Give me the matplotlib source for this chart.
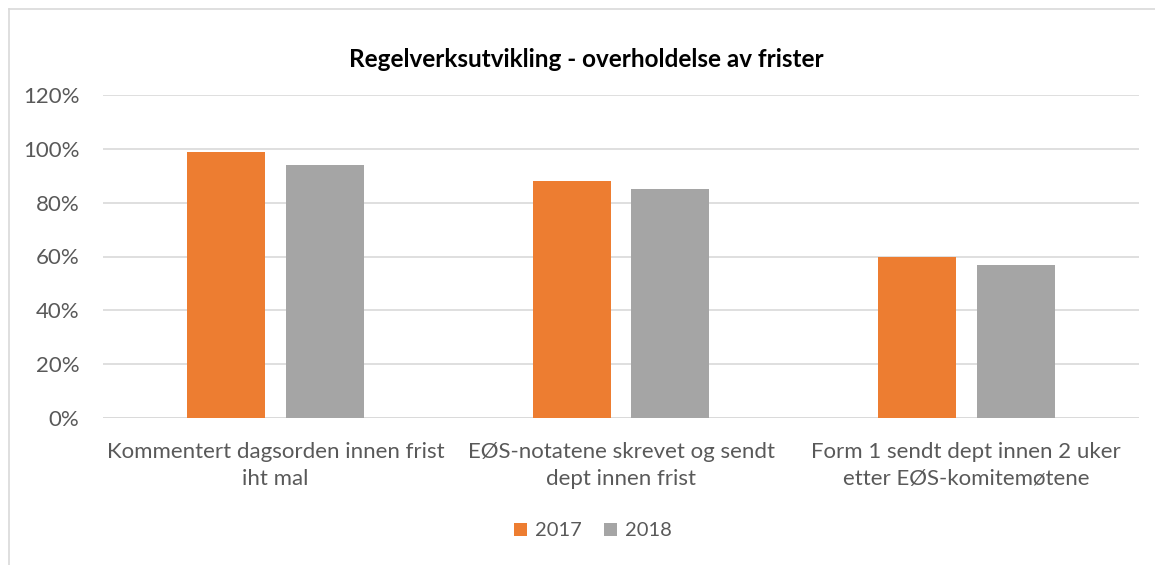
import numpy as np
import matplotlib.pyplot as plt
from matplotlib.patches import Patch
from matplotlib.lines import Line2D

categories = ["Kommentert dagsorden innen frist\niht mal",
              "EØS-notatene skrevet og sendt\ndept innen frist",
              "Form 1 sendt dept innen 2 uker\netter EØS-komitemøtene"]
series_names = ["2017", "2018"]
values_2017 = [99, 88, 60]
values_2018 = [94, 85, 57]
yticks = [0, 20, 40, 60, 80, 100, 120]

orange = "#ED7D31"
gray = "#A5A5A5"
txt = "#595959"

plt.rcParams['font.family'] = ['Lato', 'DejaVu Sans']

fig = plt.figure(figsize=(11.55, 5.65), dpi=100)
W, H = 1155, 565
ax = fig.add_axes([103 / W, 1 - 418 / H, (1139 - 103) / W, (418 - 95) / H])

x = np.arange(len(categories))
bw = 0.226
off = 0.1425
ax.bar(x - off, values_2017, bw, color=orange, zorder=3)
ax.bar(x + off, values_2018, bw, color=gray, zorder=3)

ax.set_xlim(-0.5, 2.5)
ax.set_ylim(0, 120)
ax.set_yticks(yticks)
ax.set_yticklabels([f"{v}%" for v in yticks])
ax.set_xticks(x)
ax.set_xticklabels(categories, linespacing=1.45)
ax.tick_params(axis='both', length=0, labelsize=16, colors=txt)
ax.tick_params(axis='x', pad=17)
ax.tick_params(axis='y', pad=17)
ax.yaxis.grid(True, color="#D9D9D9", linewidth=1.2, zorder=0)
for s in ax.spines.values():
    s.set_visible(False)
ax.axhline(0, color="#D9D9D9", linewidth=1.2, zorder=2)

fig.text(586 / W, 1 - 60 / H, "Regelverksutvikling - overholdelse av frister",
         ha='center', va='center', fontsize=17.5, fontweight='bold', color='black')

handles = [Patch(facecolor=orange, label=series_names[0]),
           Patch(facecolor=gray, label=series_names[1])]
fig.legend(handles=handles, loc='center', bbox_to_anchor=(593 / W, 1 - 531 / H),
           ncol=2, frameon=False, fontsize=14.5, labelcolor=txt,
           handlelength=0.65, handleheight=0.65, handletextpad=0.4, columnspacing=1.1)

# chart frame (left and top edge visible)
fig.add_artist(Line2D([9 / W, 9 / W], [0, 1 - 9 / H], color="#D9D9D9", linewidth=1.2))
fig.add_artist(Line2D([9 / W, 1], [1 - 9 / H, 1 - 9 / H], color="#D9D9D9", linewidth=1.2))

fig.savefig("out.png", dpi=100)
